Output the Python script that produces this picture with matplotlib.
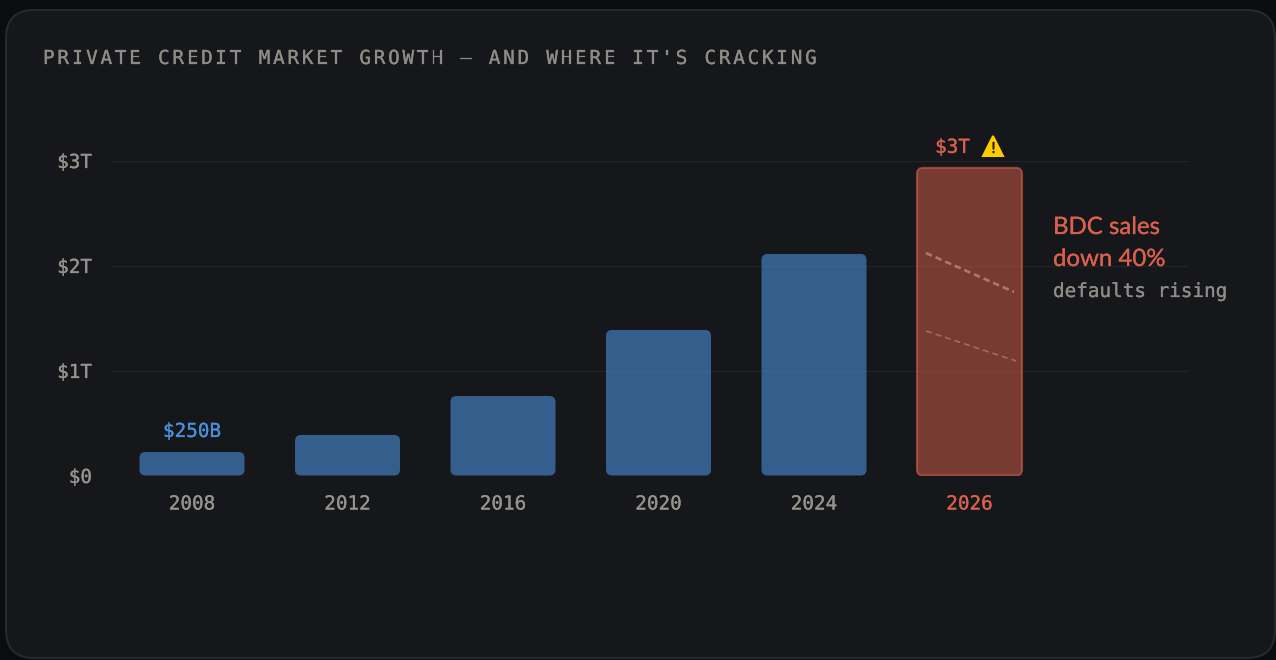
import matplotlib
matplotlib.use("Agg")
import matplotlib.pyplot as plt
import matplotlib.patheffects as pe
from matplotlib.patches import FancyBboxPatch
from matplotlib.text import Text
from matplotlib.transforms import IdentityTransform

# ---- data ----
years = ["2008", "2012", "2016", "2020", "2024", "2026"]
values = [0.224, 0.386, 0.757, 1.386, 2.11, 2.93]
y_ticks = [0, 1, 2, 3]
y_labels = ["$0", "$1T", "$2T", "$3T"]
crack_x = [4.72, 5.286]
crack_upper_y = [2.119, 1.748]
crack_lower_x = [4.72, 5.30]
crack_lower_y = [1.376, 1.09]
title = "PRIVATE CREDIT MARKET GROWTH \u2014 AND WHERE IT'S CRACKING"

# ---- style ----
W, H = 1276, 660
OUTER, CARD, BORDER = "#0b0c0f", "#15171b", "#27292d"
GRID, GRAY, GRAY2 = "#202226", "#96938c", "#8f8c85"
BLUE, RED, YELLOW = "#4a90d9", "#d9604c", "#ffcc00"
MONO = "DejaVu Sans Mono"
PX = 72 / 100
MONO_SIZE = 13.9

plt.rcParams["lines.scale_dashes"] = False
fig = plt.figure(figsize=(W / 100, H / 100), dpi=100, facecolor=OUTER)


def heavier(text_artist):
    text_artist.set_path_effects(
        [pe.withStroke(linewidth=0.18, foreground=text_artist.get_color())])
    return text_artist


class SpacedText(Text):
    """One text artist drawn with CSS-like letter spacing (advance in px)."""

    def __init__(self, *args, advance=14.4, **kw):
        super().__init__(*args, **kw)
        self.advance = advance

    def draw(self, renderer):
        x0, y0 = self.get_position()
        for i, ch in enumerate(self.get_text()):
            t = Text(x0 + i * self.advance, y0, ch, color=self.get_color(),
                     fontproperties=self.get_fontproperties(), ha="left",
                     va="baseline", transform=IdentityTransform())
            t.set_figure(self.get_figure())
            heavier(t)
            t.draw(renderer)


card = FancyBboxPatch((6, 2), 1269, 648, boxstyle="round,pad=0,rounding_size=28",
                      fc=CARD, ec=BORDER, lw=1.5, transform=IdentityTransform(), zorder=-5)
fig.add_artist(card)

ax = fig.add_axes([111 / W, 1 - 475.5 / H, (1189 - 111) / W, (475.5 - 160.5) / H])
ax.patch.set_visible(False)
ax.set_xlim((111 - 192) / 155.5, (1189 - 192) / 155.5)
ax.set_ylim(0, 3)
for s in ax.spines.values():
    s.set_visible(False)
ax.set_axisbelow(True)
ax.grid(axis="y", color=GRID, lw=1)
ax.set_yticks(y_ticks, y_labels, family=MONO, fontsize=MONO_SIZE, color=GRAY)
ax.set_xticks(range(len(years)), years, family=MONO, fontsize=MONO_SIZE, color=GRAY)
ax.get_xticklabels()[-1].set_color(RED)
for lab in ax.get_xticklabels() + ax.get_yticklabels():
    heavier(lab)
ax.tick_params(axis="both", length=0)
ax.tick_params(axis="y", pad=19 * PX)
ax.tick_params(axis="x", pad=19 * PX)

# rounded bars, in data coordinates
bar_w = 105 / 155.5
aspect = 155.5 / 105
for i, v in enumerate(values):
    last = i == len(values) - 1
    fc = matplotlib.colors.to_rgba(RED if last else BLUE, 0.5 if last else 0.6)
    ec = matplotlib.colors.to_rgba(RED, 0.6) if last else "none"
    ax.add_patch(FancyBboxPatch((i - bar_w / 2, 0), bar_w, v,
                                boxstyle=f"round,pad=0,rounding_size={6 / 155.5}",
                                mutation_aspect=aspect, fc=fc, ec=ec,
                                lw=1.5 if last else 0, zorder=2))

ax.plot(crack_x, crack_upper_y, color="#f3d0c6", alpha=0.42, lw=2.6 * PX,
        dashes=(6.5 * PX, 4 * PX), zorder=3)
ax.plot(crack_lower_x, crack_lower_y, color="#f3d0c6", alpha=0.32, lw=1.7 * PX,
        dashes=(6 * PX, 4 * PX), zorder=3)

# value labels anchored to their bars
heavier(ax.annotate("$250B", (0, values[0]), xytext=(0, 15), textcoords="offset pixels",
                    ha="center", va="baseline", family=MONO, fontsize=MONO_SIZE, color=BLUE))
heavier(ax.annotate("$3T", (5, values[5]), xytext=(-17, 15), textcoords="offset pixels",
                    ha="center", va="baseline", family=MONO, fontsize=MONO_SIZE, color=RED))

# warning sign: yellow triangle, glyph text, dark exclamation mark
wx, wy = 5.151, 3.135
ax.plot([wx], [wy], marker="^", ms=20 * PX, mfc=YELLOW, mec=YELLOW, mew=2 * PX,
        clip_on=False, zorder=4)
ax.annotate("\u26a0", (wx, wy), xytext=(0, 0), textcoords="offset pixels", ha="center",
            va="center", family="DejaVu Sans", fontsize=15, color=YELLOW, zorder=4,
            annotation_clip=False)
ax.plot([wx], [wy - 0.01], marker="$!$", ms=11 * PX, mfc="#2b2300", mec="#2b2300", mew=0.3,
        clip_on=False, zorder=5)

# side notes and title, in pixels of the figure
fig.add_artist(SpacedText(43, H - 64, title, advance=14.38, family=MONO,
                          fontsize=MONO_SIZE, color=GRAY2, transform=IdentityTransform()))
for py, s in ((234, "BDC sales"), (266, "down 40%")):
    heavier(fig.text(1053, H - py, s, family="Lato", fontsize=24 * PX, color=RED, ha="left",
                     va="baseline", transform=IdentityTransform()))
heavier(fig.text(1053, H - 297, "defaults rising", family=MONO, fontsize=MONO_SIZE,
                 color=GRAY2, ha="left", va="baseline", transform=IdentityTransform()))

fig.savefig("out.png", dpi=100, facecolor=OUTER)
